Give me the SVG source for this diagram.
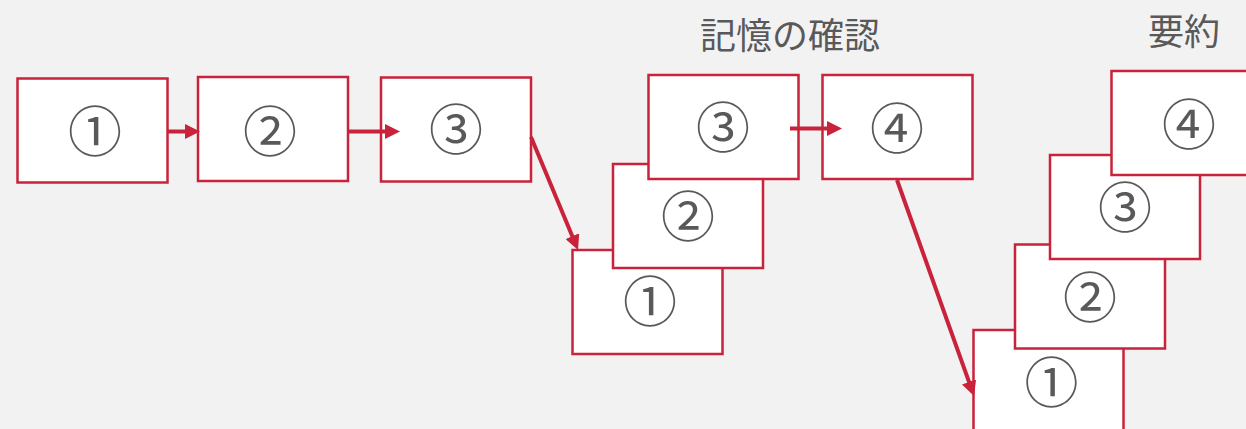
<svg xmlns="http://www.w3.org/2000/svg" width="1246" height="429" viewBox="0 0 1246 429">
<style>
.box{fill:#ffffff;stroke:#c9223b;stroke-width:2.5}
.num{font-family:"DejaVu Serif","Noto Sans CJK JP",serif;font-size:54px;fill:#595959;text-anchor:middle;dominant-baseline:central}
.title{font-family:"Noto Sans CJK JP","Noto Sans CJK SC",sans-serif;font-size:36px;fill:#595959;text-anchor:middle}
.conn{stroke:#c9223b;stroke-width:4;fill:none}
</style>
<defs>
<marker id="ah" markerUnits="userSpaceOnUse" markerWidth="15" markerHeight="15" refX="5" refY="7.5" orient="auto">
<path d="M0,0 L15,7.5 L0,15 z" fill="#c9223b"/>
</marker>
</defs>
<rect width="1246" height="429" fill="#f2f2f2"/>
<text class="title" x="790" y="49">記憶の確認</text>
<text class="title" x="1184" y="45">要約</text>
<g id="a1"><rect class="box" x="17.5" y="78.5" width="150" height="104"/><text class="num" x="95" y="133">①</text></g>
<g id="a2"><rect class="box" x="198" y="77" width="150" height="104"/><text class="num" x="270" y="133">②</text></g>
<g id="a3"><rect class="box" x="381" y="77.5" width="150" height="104"/><text class="num" x="456" y="131">③</text></g>
<g id="m1"><rect class="box" x="572.5" y="250" width="150" height="104"/><text class="num" x="650" y="303">①</text></g>
<g id="m2"><rect class="box" x="613" y="164" width="150" height="104"/><text class="num" x="688" y="218">②</text></g>
<g id="m3"><rect class="box" x="648.5" y="75" width="150" height="104"/><text class="num" x="723" y="129">③</text></g>
<g id="m4"><rect class="box" x="822.5" y="75" width="150" height="104"/><text class="num" x="897" y="130.5">④</text></g>
<g id="r1"><rect class="box" x="973.5" y="330" width="150" height="104"/><text class="num" x="1051.5" y="384.5">①</text></g>
<g id="r2"><rect class="box" x="1015" y="244.5" width="150" height="104"/><text class="num" x="1090" y="299">②</text></g>
<g id="r3"><rect class="box" x="1050" y="155" width="150" height="104"/><text class="num" x="1125" y="209">③</text></g>
<g id="r4"><rect class="box" x="1111.5" y="71" width="150" height="104"/><text class="num" x="1189" y="126">④</text></g>
<g id="connectors">
<line class="conn" x1="168" y1="131.5" x2="190" y2="131.5" marker-end="url(#ah)"/>
<line class="conn" x1="348" y1="131.5" x2="390" y2="131.5" marker-end="url(#ah)"/>
<line class="conn" x1="531" y1="137" x2="574.2" y2="240.8" marker-end="url(#ah)"/>
<line class="conn" x1="790" y1="128.5" x2="832" y2="128.5" marker-end="url(#ah)"/>
<line class="conn" x1="897" y1="180" x2="970.7" y2="386.6" marker-end="url(#ah)"/>
</g>
</svg>
